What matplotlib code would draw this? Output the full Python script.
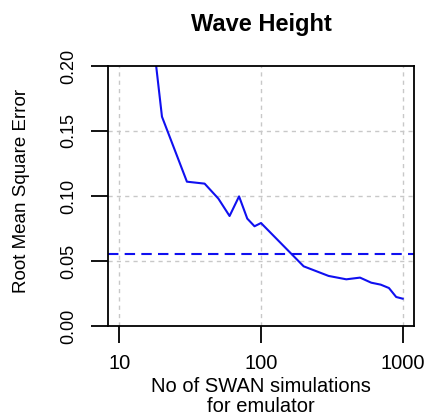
import matplotlib
matplotlib.use("Agg")
import matplotlib.pyplot as plt

plt.rcParams['font.family'] = ['Liberation Sans', 'DejaVu Sans']

# number of SWAN runs used for the emulator and the resulting RMSE
nsims = [15, 20, 30, 40, 50, 60, 70, 80, 90, 100, 200, 300, 400, 500, 600, 700, 800, 900, 1000]
rmse = [0.28, 0.161, 0.111, 0.1095, 0.098, 0.0846, 0.0997, 0.0826, 0.0767, 0.0792,
        0.0459, 0.0385, 0.0359, 0.0372, 0.0333, 0.0318, 0.0292, 0.0223, 0.021]
threshold = 0.0551

xticks = [10, 100, 1000]
yticks = [0.0, 0.05, 0.10, 0.15, 0.20]
ylabels = ['0.00', '0.05', '0.10', '0.15', '0.20']

fig = plt.figure(figsize=(4.28, 4.15), dpi=100)
ax = fig.add_axes([0.2523, 0.2145, 0.715, 0.6265])

for x in xticks:
    ax.axvline(x, color='#c8c8c8', ls=(0, (3, 3)), lw=1, zorder=0)
for y in yticks[1:-1]:
    ax.axhline(y, color='#c8c8c8', ls=(0, (3, 3)), lw=1, zorder=0)

ax.plot(nsims, rmse, color='#1010f0', lw=1.5)
ax.axhline(threshold, color='#1010f0', lw=1.5, ls=(0, (5, 3)))

ax.set_xscale('log')
ax.set_xlim(10 ** 0.92, 10 ** 3.08)
ax.set_ylim(0, 0.2)
ax.set_xticks(xticks)
ax.set_xticklabels([str(x) for x in xticks], fontsize=14.5)
ax.minorticks_off()
ax.set_yticks(yticks)
ax.set_yticklabels(ylabels, rotation=90, va='center', fontsize=13)

ax.tick_params(axis='both', length=12, width=1.3, color='black')
ax.tick_params(axis='x', pad=8)
ax.tick_params(axis='y', pad=10)
for s in ax.spines.values():
    s.set_linewidth(1.3)

ax.set_xlabel('No of SWAN simulations\nfor emulator', fontsize=14.5, linespacing=1.05, labelpad=3)
ax.set_ylabel('Root Mean Square Error', fontsize=13.5, va='center')
ax.yaxis.set_label_coords(-0.283, 0.52)
ax.set_title('Wave Height', fontsize=17, fontweight='bold', pad=25)

fig.savefig('out.png', dpi=100)
